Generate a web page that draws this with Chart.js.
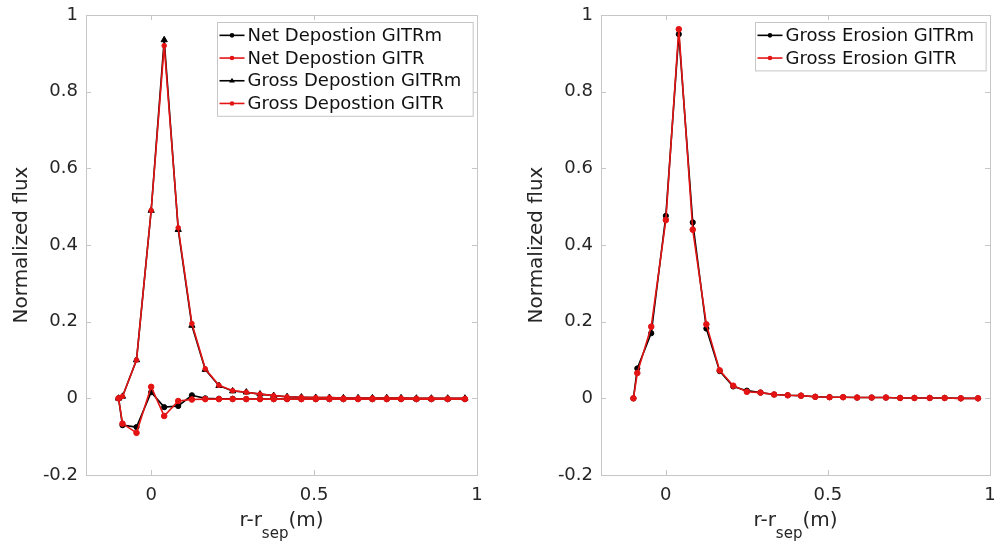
<!DOCTYPE html>
<html>
<head>
<meta charset="utf-8">
<script src="https://cdn.jsdelivr.net/npm/chart.js@4.4.1/dist/chart.umd.min.js"></script>
<style>
  body { margin: 0; background: #fff; }
  .wrap { display: flex; width: 997px; height: 548px; }
  canvas { display: block; }
</style>
</head>
<body>
<div class="wrap">
  <canvas id="left" width="490" height="548"></canvas>
  <canvas id="right" width="507" height="548"></canvas>
</div>
<script>
// radial positions r - r_sep (m), shared by both panels
const xPos = [-0.1, -0.088, -0.045, 0, 0.04, 0.083, 0.125, 0.166, 0.208, 0.25, 0.292, 0.334, 0.376,
  0.417, 0.461, 0.505, 0.547, 0.59, 0.635, 0.679, 0.723, 0.767, 0.814, 0.86, 0.91, 0.963];

// left panel
const netGITRm = [0, -0.07, -0.075, 0.016, -0.023, -0.02, 0.008, 0, -0.001, -0.001, -0.002, -0.002, -0.002,
  -0.002, -0.002, -0.002, -0.002, -0.002, -0.002, -0.002, -0.002, -0.002, -0.002, -0.002, -0.002, -0.002];
const netGITR = [0, -0.066, -0.09, 0.03, -0.046, -0.007, -0.003, -0.002, -0.002, -0.002, -0.002, -0.002, -0.002,
  -0.002, -0.002, -0.002, -0.002, -0.002, -0.002, -0.002, -0.002, -0.002, -0.002, -0.002, -0.002, -0.002];
const grossGITRm = [0, 0.005, 0.1, 0.49, 0.935, 0.44, 0.19, 0.075, 0.033, 0.019, 0.016, 0.011, 0.007,
  0.004, 0.003, 0.002, 0.002, 0.001, 0.001, 0.001, 0.001, 0.001, 0, 0, 0, 0];
const grossGITR = [0, 0.005, 0.1, 0.49, 0.92, 0.445, 0.195, 0.077, 0.034, 0.02, 0.016, 0.011, 0.007,
  0.004, 0.003, 0.002, 0.002, 0.001, 0.001, 0.001, 0.001, 0.001, 0, 0, 0, 0];

// right panel
const erosionGITRm = [0, 0.078, 0.17, 0.476, 0.95, 0.459, 0.182, 0.071, 0.031, 0.02, 0.015, 0.01, 0.008,
  0.007, 0.004, 0.003, 0.003, 0.002, 0.002, 0.002, 0.001, 0.001, 0.001, 0.001, 0, 0];
const erosionGITR = [0, 0.066, 0.187, 0.465, 0.963, 0.44, 0.193, 0.073, 0.033, 0.017, 0.015, 0.01, 0.008,
  0.007, 0.004, 0.003, 0.003, 0.002, 0.002, 0.002, 0.001, 0.001, 0.001, 0.001, 0, 0];

const xTicks = [0, 0.5, 1];
const yTicks = [-0.2, 0, 0.2, 0.4, 0.6, 0.8, 1];

const FONT = "'DejaVu Sans', sans-serif";
const RED = 'rgb(228,20,20)';
const BLACK = '#000';
const BOX = '#c6c6c6';
const TEXT = '#262626';

function pts(ys) {
  return xPos.map((x, i) => ({ x: x, y: ys[i] }));
}

function series(label, ys, color, style, radius, order) {
  return {
    label: label,
    data: pts(ys),
    borderColor: color,
    backgroundColor: color,
    borderWidth: 1.6,
    pointStyle: style,
    pointRadius: radius,
    pointBorderWidth: 1,
    tension: 0,
    order: order
  };
}

function drawMarker(ctx, style, x, y, r, color) {
  ctx.fillStyle = color;
  ctx.beginPath();
  if (style === 'triangle') {
    ctx.moveTo(x, y - r);
    ctx.lineTo(x + r * 0.95, y + r * 0.6);
    ctx.lineTo(x - r * 0.95, y + r * 0.6);
    ctx.closePath();
  } else {
    ctx.arc(x, y, r, 0, Math.PI * 2);
  }
  ctx.fill();
}

// box, inward ticks, titles and boxed legend like the matlab figure
const matlabLook = {
  id: 'matlabLook',
  beforeDatasetsDraw(chart) {
    const ctx = chart.ctx;
    const a = chart.chartArea;
    const xs = chart.scales.x, ys = chart.scales.y;
    ctx.save();
    ctx.strokeStyle = BOX;
    ctx.lineWidth = 1;
    ctx.strokeRect(Math.round(a.left) + 0.5, Math.round(a.top) + 0.5,
      Math.round(a.right - a.left), Math.round(a.bottom - a.top));
    ctx.beginPath();
    yTicks.forEach(v => {
      const y = Math.round(ys.getPixelForValue(v)) + 0.5;
      ctx.moveTo(a.left, y); ctx.lineTo(a.left + 5, y);
      ctx.moveTo(a.right, y); ctx.lineTo(a.right - 5, y);
    });
    xTicks.forEach(v => {
      const x = Math.round(xs.getPixelForValue(v)) + 0.5;
      ctx.moveTo(x, a.bottom); ctx.lineTo(x, a.bottom - 5);
      ctx.moveTo(x, a.top); ctx.lineTo(x, a.top + 5);
    });
    ctx.stroke();
    ctx.restore();
  },
  afterDraw(chart) {
    const ctx = chart.ctx;
    const a = chart.chartArea;
    ctx.save();
    ctx.fillStyle = TEXT;

    // y title
    ctx.font = '20px ' + FONT;
    ctx.textAlign = 'center';
    ctx.textBaseline = 'middle';
    ctx.translate(a.left - 64, (a.top + a.bottom) / 2);
    ctx.rotate(-Math.PI / 2);
    ctx.fillText('Normalized flux', 0, 0);
    ctx.setTransform(1, 0, 0, 1, 0, 0);

    // x title with subscript
    const main1 = 'r-r', sub = 'sep', main2 = '(m)';
    ctx.font = '20px ' + FONT;
    const w1 = ctx.measureText(main1).width, w3 = ctx.measureText(main2).width;
    ctx.font = '15px ' + FONT;
    const w2 = ctx.measureText(sub).width;
    let x = (a.left + a.right) / 2 - (w1 + w2 + w3) / 2;
    const yMid = a.bottom + 46;
    ctx.textAlign = 'left';
    ctx.font = '20px ' + FONT;
    ctx.fillText(main1, x, yMid);
    ctx.font = '15px ' + FONT;
    ctx.fillText(sub, x + w1, yMid + 13);
    ctx.font = '20px ' + FONT;
    ctx.fillText(main2, x + w1 + w2, yMid);

    // legend
    const sets = chart.data.datasets;
    ctx.font = '18px ' + FONT;
    const tw = Math.max(...sets.map(d => ctx.measureText(d.label).width));
    const rowH = 22.7;
    const bw = 2 + 25 + 3 + tw + 12;
    const bh = sets.length * rowH + 3;
    const bx = Math.round(a.right - 4 - bw) + 0.5;
    const by = Math.round(a.top + 7) + 0.5;
    ctx.fillStyle = '#fff';
    ctx.fillRect(bx, by, bw, bh);
    ctx.strokeStyle = BOX;
    ctx.lineWidth = 1;
    ctx.strokeRect(bx, by, bw, bh);
    sets.forEach((d, i) => {
      const cy = by + 1.5 + rowH * (i + 0.5);
      ctx.strokeStyle = d.borderColor;
      ctx.lineWidth = 1.6;
      ctx.beginPath();
      ctx.moveTo(bx + 2, cy); ctx.lineTo(bx + 27, cy);
      ctx.stroke();
      drawMarker(ctx, d.pointStyle, bx + 14.5, cy, d.pointStyle === 'triangle' ? 3 : 2.3, d.borderColor);
      ctx.fillStyle = '#111';
      ctx.textAlign = 'left';
      ctx.textBaseline = 'middle';
      ctx.fillText(d.label, bx + 30, cy + 1);
    });
    ctx.restore();
  }
};

function makeChart(id, datasets, axisWidth, rightPad) {
  return new Chart(document.getElementById(id), {
    type: 'line',
    data: { datasets: datasets },
    options: {
      responsive: false,
      animation: false,
      devicePixelRatio: 1,
      layout: { padding: { left: 0, right: rightPad, top: 15, bottom: 0 } },
      plugins: { legend: { display: false }, tooltip: { enabled: false } },
      scales: {
        x: {
          type: 'linear',
          min: -0.2,
          max: 1,
          afterBuildTicks: s => { s.ticks = xTicks.map(v => ({ value: v })); },
          afterFit: s => { s.height = 73; s.paddingLeft = 0; s.paddingRight = 0; },
          grid: { display: false, drawTicks: false },
          border: { display: false },
          ticks: {
            padding: 10,
            color: TEXT,
            font: { family: FONT, size: 18 },
            maxRotation: 0,
            callback: v => String(+v.toFixed(1))
          }
        },
        y: {
          min: -0.2,
          max: 1,
          afterBuildTicks: s => { s.ticks = yTicks.map(v => ({ value: v })); },
          afterFit: s => { s.width = axisWidth; s.paddingTop = 0; s.paddingBottom = 0; },
          grid: { display: false, drawTicks: false },
          border: { display: false },
          ticks: {
            padding: 8,
            color: TEXT,
            font: { family: FONT, size: 18 },
            callback: v => String(+v.toFixed(1))
          }
        }
      }
    },
    plugins: [matlabLook]
  });
}

makeChart('left', [
  series('Net Depostion GITRm', netGITRm, BLACK, 'circle', 2.6, 4),
  series('Net Depostion GITR', netGITR, RED, 'circle', 2.8, 2),
  series('Gross Depostion GITRm', grossGITRm, BLACK, 'triangle', 3.6, 3),
  series('Gross Depostion GITR', grossGITR, RED, 'circle', 2.3, 1)
], 86, 13);

makeChart('right', [
  series('Gross Erosion GITRm', erosionGITRm, BLACK, 'circle', 2.6, 2),
  series('Gross Erosion GITR', erosionGITR, RED, 'circle', 2.8, 1)
], 111, 7);
</script>
</body>
</html>
